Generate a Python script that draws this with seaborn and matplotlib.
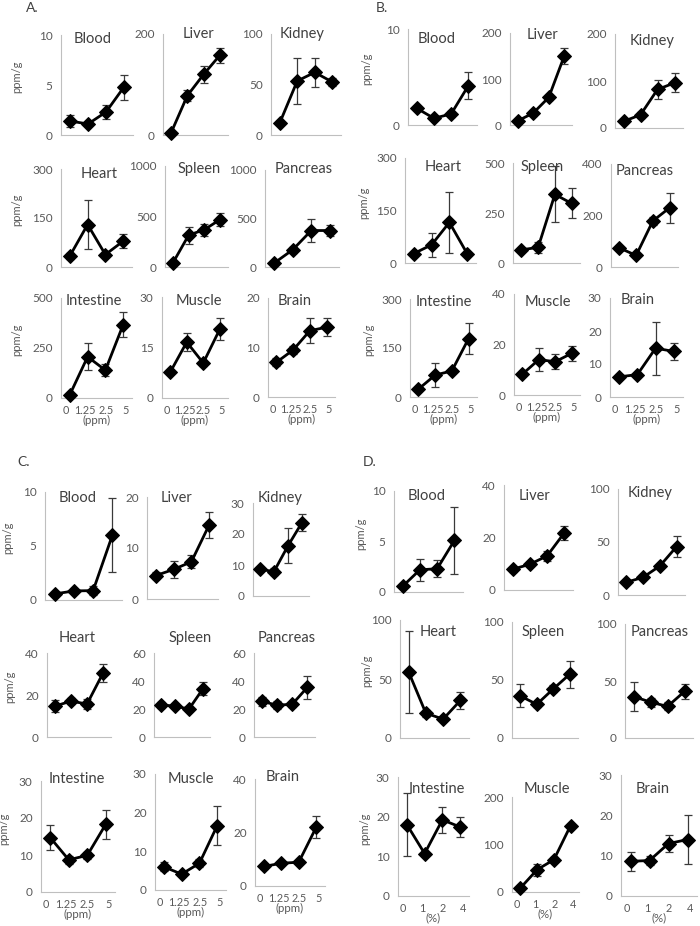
import numpy as np
import pandas as pd
import seaborn as sns
import matplotlib.pyplot as plt

organs = ["Blood", "Liver", "Kidney", "Heart", "Spleen", "Pancreas",
          "Intestine", "Muscle", "Brain"]
dose_ppm = ["0", "1.25", "2.5", "5"]
dose_pct = ["0", "1", "2", "4"]

# A.
a_means = [[1.4, 1.1, 2.3, 4.8], [4.6, 78, 120, 158], [12, 53.5, 62, 52.5],
           [34, 130, 38, 79], [40, 315, 370, 470], [41, 178, 376, 376],
           [17, 206, 139, 366], [7.7, 16.6, 10.4, 20.4], [7.0, 9.5, 13.4, 14.1]]
a_errs = [[0.6, 0.2, 0.7, 1.25], [2, 11, 17, 15], [1.5, 23, 14, 3.5],
          [8, 76, 6, 22], [10, 85, 60, 65], [8, 30, 115, 60],
          [5, 68, 30, 63], [0.5, 2.6, 0.8, 3.3], [0.8, 0.8, 2.5, 1.8]]
a_yticks = [[0, 5, 10], [0, 200], [0, 50, 100], [0, 150, 300], [0, 500, 1000],
            [0, 500, 1000], [0, 250, 500], [0, 15, 30], [0, 10, 20]]

# B.
b_means = [[1.75, 0.7, 1.15, 4.1], [9, 26, 60, 150], [14, 28, 82, 96],
           [27, 52, 116, 27], [66, 78, 343, 298], [74, 45, 179, 230],
           [24, 67, 80, 179], [8.2, 14, 13.2, 16.5], [6.1, 6.8, 14.8, 13.8]]
b_errs = [[0.2, 0.15, 0.3, 1.4], [2, 6, 5, 18], [3, 6, 20, 20],
          [4, 35, 88, 4], [8, 29, 140, 75], [6, 5, 17, 58],
          [5, 36, 5, 47], [0.8, 4.6, 2.9, 3], [0.5, 0.6, 8, 2.5]]
b_yticks = [[0, 10], [0, 100, 200], [0, 100, 200], [0, 150, 300], [0, 250, 500],
            [0, 200, 400], [0, 150, 300], [0, 20, 40], [0, 10, 20, 30]]

# C.
c_means = [[0.56, 0.84, 0.87, 6.0], [4.6, 5.8, 7.3, 14.5], [8.6, 7.9, 16.2, 23.7],
           [14.7, 17.1, 15.7, 30.4], [23, 22, 20, 34.5], [25.5, 22.8, 23.3, 35.5],
           [14.7, 8.7, 9.9, 18.3], [6.0, 4.1, 6.9, 16.6], [7.3, 8.5, 8.9, 22]]
c_errs = [[0.2, 0.15, 0.4, 3.4], [0.6, 1.7, 1.3, 2.5], [0.6, 1.2, 5.6, 2.6],
          [2.8, 1.5, 2.4, 4.3], [2, 1.5, 1.5, 4.5], [3, 3, 2, 8],
          [3.4, 1, 1, 3.9], [1.2, 0.4, 1, 5], [1, 0.6, 0.8, 4.2]]
c_yticks = [[0, 5, 10], [0, 10, 20], [0, 10, 20, 30], [0, 20, 40], [0, 20, 40, 60],
            [0, 20, 40, 60], [0, 10, 20, 30], [0, 10, 20, 30], [0, 20, 40]]

# D.
d_means = [[0.56, 2.2, 2.3, 5.1], [7.9, 9.8, 13, 21.8], [12, 16.7, 27.4, 45.7],
           [56, 21, 16, 31.8], [36.3, 29, 42.3, 55], [36.4, 31.5, 27.7, 40.8],
           [18, 10.7, 19.2, 17.4], [8.4, 47, 68, 140], [8.6, 8.8, 13, 14]]
d_errs = [[0.15, 1.1, 0.85, 3.3], [1, 0.8, 2, 2.6], [2, 2, 2, 9.7],
          [35, 3, 1.5, 7.5], [10, 2, 3, 11.7], [13, 4, 3.5, 7],
          [7.9, 0.5, 3.2, 2.5], [2, 13, 5, 4], [2.3, 1.2, 2.2, 6]]
d_yticks = [[0, 5, 10], [0, 20, 40], [0, 50, 100], [0, 50, 100], [0, 50, 100],
            [0, 50, 100], [0, 10, 20, 30], [0, 100, 200], [0, 10, 20, 30]]

# layout in pixels: (left, top, right, bottom) of each small axes, and title centre
a_boxes = [(61, 35, 133, 135), (163, 34, 228, 135), (271, 34, 341, 135),
           (61, 169, 132, 267), (165, 166, 228, 267), (265, 170, 339, 267),
           (61, 298, 132, 398), (162, 297, 228, 398), (268, 298, 335, 397)]
a_titles = [(93, 39), (198, 34), (302, 34), (99, 174), (199, 169), (304, 169),
            (94, 301), (199, 301), (295, 301)]
b_boxes = [(408, 29, 477, 125), (510, 33, 572, 125), (615, 34, 683, 128),
           (405, 158, 476, 263), (513, 163, 580, 263), (611, 164, 678, 267),
           (410, 299, 477, 397), (514, 294, 580, 395), (610, 298, 683, 397)]
b_titles = [(437, 39), (543, 35), (652, 41), (443, 167), (542, 167), (645, 171),
            (444, 302), (548, 302), (638, 300)]
c_boxes = [(45, 492, 122, 600), (147, 497, 218, 599), (253, 503, 309, 596),
           (47, 653, 111, 737), (154, 653, 210, 737), (254, 653, 315, 737),
           (41, 781, 115, 892), (155, 774, 226, 890), (255, 779, 325, 886)]
c_titles = [(78, 498), (177, 498), (280, 498), (77, 638), (190, 638), (287, 638),
            (77, 779), (191, 779), (283, 777)]
d_boxes = [(394, 491, 463, 592), (504, 485, 573, 590), (618, 489, 685, 595),
           (400, 620, 469, 738), (512, 622, 578, 738), (625, 624, 693, 738),
           (398, 777, 469, 896), (512, 797, 579, 892), (621, 775, 697, 896)]
d_titles = [(427, 496), (535, 496), (650, 493), (438, 632), (543, 632), (660, 632),
            (437, 789), (547, 789), (653, 789)]

panels = [
    ("A.", (32, 8), a_means, a_errs, a_yticks, a_boxes, a_titles, dose_ppm, "(ppm)", 44),
    ("B.", (382, 8), b_means, b_errs, b_yticks, b_boxes, b_titles, dose_ppm, "(ppm)", 41),
    ("C.", (24, 462), c_means, c_errs, c_yticks, c_boxes, c_titles, dose_ppm, "(ppm)", 37),
    ("D.", (370, 462), d_means, d_errs, d_yticks, d_boxes, d_titles, dose_pct, "(%)", 33),
]

sns.set_theme(style="white")
plt.rcParams["font.family"] = ["Lato", "DejaVu Sans"]

W, H = 700, 926
axis_grey = "#bfbfbf"
text_grey = "#595959"

fig = plt.figure(figsize=(W / 100, H / 100), dpi=100)


def px_rect(l, t, r, b):
    return [l / W, 1 - b / H, (r - l) / W, (b - t) / H]


for letter, lpos, means, errs, yticks, boxes, titles, xlabels, xunit, ydx in panels:
    fig.text(lpos[0] / W, 1 - lpos[1] / H, letter, fontsize=10, color="#404040",
             ha="center", va="center")
    for i, organ in enumerate(organs):
        ax = fig.add_axes(px_rect(*boxes[i]))
        df = pd.DataFrame({"dose": np.arange(4), "value": means[i], "err": errs[i]})

        ax.errorbar(df["dose"], df["value"], yerr=df["err"], fmt="none",
                    ecolor="#3a3a3a", elinewidth=0.9, capsize=2.6, capthick=0.9,
                    zorder=2, clip_on=False)
        sns.lineplot(data=df, x="dose", y="value", ax=ax, color="black",
                     linewidth=2.0, marker="D", markersize=6.8,
                     markeredgecolor="black", zorder=3, clip_on=False)

        ax.set_xlim(-0.5, 3.5)
        ax.set_ylim(0, yticks[i][-1])
        ax.set_yticks(yticks[i])
        ax.set_yticklabels([str(t) for t in yticks[i]])
        ax.set_xticks(np.arange(-0.5, 4, 1))
        ax.set_xticklabels([])
        ax.set_xlabel("")
        ax.set_ylabel("")
        ax.tick_params(axis="both", which="major", direction="out", length=3,
                       width=0.8, color=axis_grey, labelsize=8.5, labelcolor=text_grey,
                       pad=3)
        if i >= 6:
            # labels sit a little spread out, as in the original
            ax.set_xticks([-0.22, 0.86, 2.02, 3.14], minor=True)
            ax.set_xticklabels(xlabels, minor=True)
            ax.tick_params(axis="x", which="minor", length=0, labelsize=7.8,
                           labelcolor=text_grey, pad=5)
            ax.set_xlabel(xunit, fontsize=8.3, color=text_grey, labelpad=-1)

        sns.despine(ax=ax)
        for side in ["left", "bottom"]:
            ax.spines[side].set_color(axis_grey)
            ax.spines[side].set_linewidth(0.8)

        tx, ty = titles[i]
        fig.text(tx / W, 1 - ty / H, organ, fontsize=10.5, color="#404040",
                 ha="center", va="center")

        if i % 3 == 0:
            l, t, r, b = boxes[i]
            fig.text((l - ydx) / W, 1 - ((t + b) / 2 - 8) / H, "ppm/g", fontsize=8,
                     color=text_grey, rotation=90, ha="center", va="center")

fig.savefig("out.png", dpi=100, facecolor="white")
